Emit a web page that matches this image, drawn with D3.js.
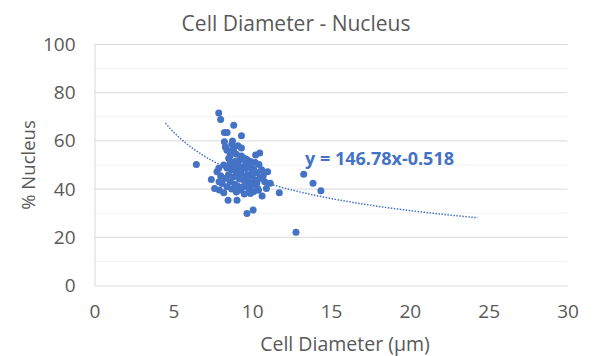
<!DOCTYPE html>
<html><head><meta charset="utf-8">
<script src="https://cdn.jsdelivr.net/npm/d3@7"></script>
<style>body{margin:0;background:#fff}svg{display:block}</style>
</head><body><svg id="c" width="593" height="356"></svg>
<script>
const cellDiameter = [7.88,8.0,8.83,8.24,8.41,9.32,8.24,8.75,8.30,9.32,8.40,8.83,10.48,10.22,6.46,9.32,9.67,8.51,10.43,10.98,7.88,7.77,7.41,7.62,7.92,8.47,9.04,9.67,10.06,10.63,10.9,11.15,11.72,10.35,9.89,9.25,13.27,13.86,14.36,12.78,
 8.6,8.9,9.1,9.4,9.6,9.9,10.1,8.7,9.0,9.3,9.7,10.0,10.3,8.5,8.8,9.2,9.5,9.8,10.2,10.5,8.3,8.6,8.9,9.1,9.4,9.7,10.0,10.3,8.1,8.4,8.7,9.0,9.5,9.8,10.1,8.2,8.6,9.0,9.5,9.9,10.2,8.9,9.2,9.6,10.0,10.6,10.7,8.0,8.8,9.1,9.3,9.6,8.4,10.4,9.0,8.7,7.9,8.2,10.8];
const nucleusPct = [71.6,68.9,66.5,63.5,63.5,62.1,59.6,60.0,57.5,57.1,56.1,55.4,55.0,54.1,50.2,53.7,52.3,52.7,50.2,47.2,48.6,47.2,44.0,40.3,39.6,35.4,35.4,29.9,31.3,37.1,40.3,42.4,38.5,40.3,38.2,39.6,46.2,42.4,39.3,22.1,
 50.5,51.5,50.0,49.2,48.5,49.0,48.2,48.0,47.3,46.5,46.0,45.5,46.8,46.0,45.0,44.2,43.5,43.0,43.8,44.5,44.5,43.0,42.0,41.2,40.8,41.5,41.8,42.5,42.3,41.0,40.0,38.8,38.0,39.8,39.0,50.0,53.8,54.5,52.8,51.5,51.0,49.0,52.0,50.8,47.0,48.0,45.5,45.5,56.5,58.0,48.0,44.8,48.8,39.5,45.8,58.5,43.0,38.5,43.0];
const trendCoef = [146.78, -0.518];
const trendRange = [4.5, 24.3];
const xTicks = [0,5,10,15,20,25,30];
const yTicks = [0,20,40,60,80,100];
const yMinorTicks = [10,30,50,70,90];
const labels = {title:"Cell Diameter - Nucleus", x:"Cell Diameter (µm)", y:"% Nucleus", eq:"y = 146.78x-0.518"};

const svg = d3.select("#c");
const blue = "#4472C4", grey = "#595959";
const x = d3.scaleLinear().domain([0,30]).range([94.5,567.5]);
const y = d3.scaleLinear().domain([0,100]).range([285.5,44.5]);
const font = "'Open Sans', sans-serif";

svg.append("g").selectAll("line").data(yMinorTicks).join("line")
  .attr("x1",x(0)).attr("x2",x(30)).attr("y1",d=>y(d)).attr("y2",d=>y(d))
  .attr("stroke","#f2f2f2").attr("stroke-width",1);
svg.append("g").selectAll("line").data(yTicks.filter(d=>d>0)).join("line")
  .attr("x1",x(0)).attr("x2",x(30)).attr("y1",d=>y(d)).attr("y2",d=>y(d))
  .attr("stroke","#d9d9d9").attr("stroke-width",1);

const xAxis = svg.append("g").attr("transform",`translate(0,${y(0)})`)
  .call(d3.axisBottom(x).tickValues(xTicks).tickSize(0).tickPadding(19));
const yAxis = svg.append("g").attr("transform",`translate(${x(0)},0)`)
  .call(d3.axisLeft(y).tickValues(yTicks).tickSize(0).tickPadding(19));
[xAxis,yAxis].forEach(a=>{
  a.select(".domain").attr("stroke","#d9d9d9");
  a.selectAll("text").attr("fill",grey).style("font-family",font).style("font-size","19px");
});

const tx = d3.range(0,201).map(i=>trendRange[0]+(trendRange[1]-trendRange[0])*i/200);
svg.append("path").datum(tx)
  .attr("d", d3.line().x(d=>x(d)).y(d=>y(trendCoef[0]*Math.pow(d,trendCoef[1]))))
  .attr("fill","none").attr("stroke",blue).attr("stroke-width",1.5).attr("stroke-dasharray","1.5 1.5");

svg.append("g").selectAll("circle").data(cellDiameter.map((d,i)=>[d,nucleusPct[i]])).join("circle")
  .attr("cx",d=>x(d[0])).attr("cy",d=>y(d[1])).attr("r",3.5).attr("fill",blue);

svg.append("text").attr("x",296).attr("y",31).attr("text-anchor","middle")
  .attr("fill",grey).style("font-family",font).style("font-size","21px").text(labels.title);
svg.append("text").attr("x",345).attr("y",351).attr("text-anchor","middle")
  .attr("fill",grey).style("font-family",font).style("font-size","19.5px").text(labels.x);
svg.append("text").attr("transform","translate(35,165) rotate(-90)").attr("text-anchor","middle")
  .attr("fill",grey).style("font-family",font).style("font-size","18.5px").text(labels.y);
svg.append("text").attr("x",305).attr("y",165)
  .attr("fill",blue).style("font-family",font).style("font-size","18px").style("font-weight","bold").text(labels.eq);
</script></body></html>
